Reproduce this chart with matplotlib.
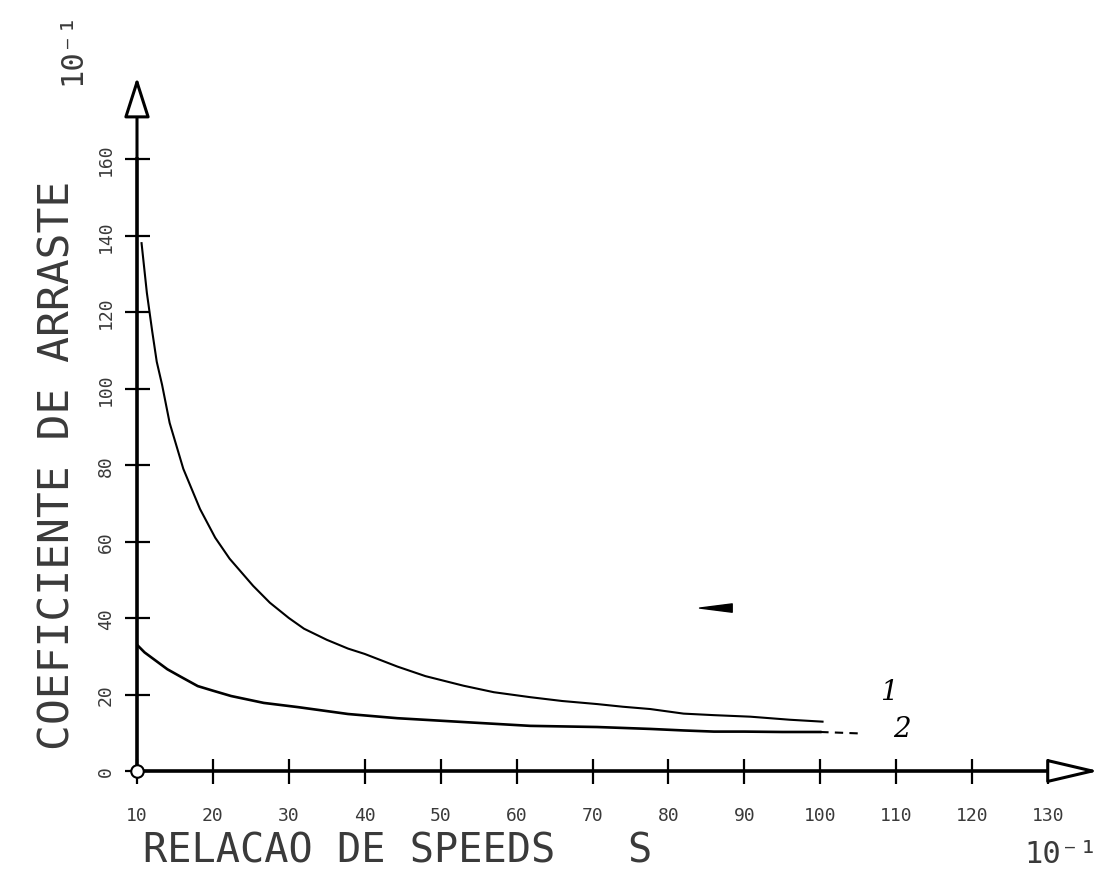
import numpy as np
import matplotlib
matplotlib.use('Agg')
import matplotlib.pyplot as plt


"""DATA read off the plotter chart"""
# curve 1
s1 = [10.6, 11.3, 12.0, 12.6, 13.3, 14.3, 16.1, 18.3, 20.3, 22.2, 25.3, 27.5, 30.0, 32.0,
      35.0, 37.8, 40.0, 44.3, 48.0, 53.0, 57.0, 61.8, 66.0, 70.6, 74.0, 77.6, 82.0, 86.0, 90.8,
      96.0, 100.3]
cd1 = [138, 125, 115, 107, 101, 91, 79, 68.5, 61, 55.5, 48.4, 44, 40, 37.2,
       34.3, 32, 30.6, 27.3, 24.8, 22.3, 20.6, 19.3, 18.3, 17.5, 16.8, 16.2, 15.0, 14.6, 14.2,
       13.4, 12.9]
# curve 2
s2 = [10.1, 11.0, 12.5, 14.0, 15.8, 18.0, 20.0, 22.4, 26.7, 31.2, 37.8, 44.3, 53.0, 61.8,
      70.6, 77.6, 82.0, 86.0, 90.0, 95.0, 100.0]
cd2 = [32.8, 31.0, 28.8, 26.6, 24.6, 22.2, 21.0, 19.6, 17.8, 16.7, 14.9, 13.8, 12.8, 11.8,
       11.5, 11.0, 10.6, 10.3, 10.3, 10.2, 10.2]
# dashed tail after curve 2
s2_tail = [100.0, 105.5]
cd2_tail = [10.2, 9.8]

xticks = list(range(10, 140, 10))
yticks = list(range(0, 180, 20))

mono = 'DejaVu Sans Mono'
txt_col = '#3a3a3a'

fig = plt.figure(figsize=(11.05, 8.79), dpi=100, facecolor='w')
ax = fig.add_axes([137/1105, 107/879, 911/1105, 612/879])
ax.set_xlim(10, 130)
ax.set_ylim(0, 160)

ax.plot(s1, cd1, color='k', lw=1.5)
ax.plot(s2, cd2, color='k', lw=1.9)
ax.plot(s2_tail, cd2_tail, color='k', lw=1.5, ls=(0, (4, 3)))

# axes drawn like a pen plotter: thick lines, crossing ticks, open arrow heads
for spine in ('top', 'right'):
    ax.spines[spine].set_visible(False)
for spine in ('left', 'bottom'):
    ax.spines[spine].set_linewidth(2.6)
ax.set_xticks(xticks)
ax.set_yticks(yticks)
ax.tick_params(direction='inout', length=18, width=1.6, colors='k', labelcolor=txt_col)
ax.tick_params(axis='x', pad=16, labelsize=13)
ax.tick_params(axis='y', pad=7, labelsize=13)
for lab in ax.get_xticklabels() + ax.get_yticklabels():
    lab.set_family(mono)
plt.setp(ax.get_yticklabels(), rotation=90, va='center')

ax.annotate('', xy=(136.7, 0), xytext=(130, 0), annotation_clip=False,
            arrowprops=dict(arrowstyle='-|>,head_length=3.2,head_width=0.75', mutation_scale=10,
                            fc='w', ec='k', lw=2.2, shrinkA=0, shrinkB=0))
ax.annotate('', xy=(0, 181.4), xytext=(0, 160), xycoords=('axes fraction', 'data'),
            annotation_clip=False,
            arrowprops=dict(arrowstyle='-|>,head_length=2.5,head_width=0.8', mutation_scale=10,
                            fc='w', ec='k', lw=2.2, shrinkA=0, shrinkB=0))
ax.plot(10, 0, 'o', mfc='w', mec='k', mew=1.5, ms=9, clip_on=False, zorder=5)

# curve labels written by hand and the stray pointer mark
ax.text(109.1, 20.9, '1', fontsize=20, style='italic', family='DejaVu Serif',
        ha='center', va='center')
ax.text(110.7, 11.0, '2', fontsize=20, style='italic', family='DejaVu Serif',
        ha='center', va='center')
ax.annotate('', xy=(84.1, 42.6), xytext=(88.4, 42.6),
            arrowprops=dict(arrowstyle='wedge,tail_width=0.5', mutation_scale=12,
                            color='k', shrinkA=0, shrinkB=0))

# titles
fig.text(58/1105, 1 - 465/879, 'COEFICIENTE DE ARRASTE', rotation=90, ha='center',
         va='center', fontsize=31, family=mono, color=txt_col)
fig.text(143/1105, 1 - 852/879, 'RELACAO DE SPEEDS   S', ha='left', va='center',
         fontsize=29, family=mono, color=txt_col)
fig.text(72/1105, 1 - 48/879, '10⁻¹', rotation=90, ha='center', va='center',
         fontsize=22, family=mono, color=txt_col)
fig.text(1098/1105, 1 - 855/879, '10⁻¹', ha='right', va='center',
         fontsize=22, family=mono, color=txt_col)

fig.savefig('out.png', dpi=100, facecolor='w')
